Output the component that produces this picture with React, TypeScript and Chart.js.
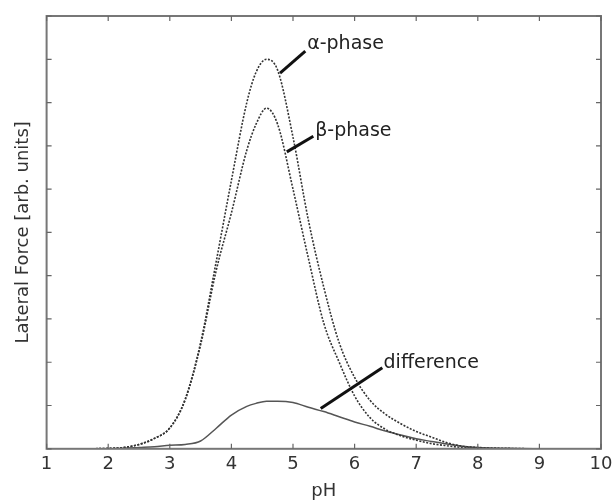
import React, { useEffect, useRef } from "react";
import { Chart, registerables } from "chart.js";

Chart.register(...registerables);

// pH sample points
const phValues = [1, 1.5, 2, 2.25, 2.5, 2.75, 3, 3.25, 3.5, 3.75, 4, 4.25, 4.4, 4.57, 4.75, 5, 5.25, 5.5, 5.75, 6, 6.25, 6.5, 6.75, 7, 7.25, 7.5, 7.75, 8, 8.5, 9, 10];
// Lateral force, alpha phase
const alphaValues = [0, 0, 0.01, 0.03, 0.1, 0.24, 0.48, 1.15, 2.45, 4.3, 6.2, 8.0, 8.7, 9.0, 8.75, 7.2, 5.28, 3.73, 2.45, 1.65, 1.12, 0.8, 0.58, 0.4, 0.27, 0.14, 0.06, 0.03, 0.01, 0, 0];
// Lateral force, beta phase
const betaValues = [0, 0, 0.01, 0.03, 0.1, 0.24, 0.48, 1.13, 2.4, 4.1, 5.45, 6.9, 7.5, 7.87, 7.5, 6.0, 4.4, 2.9, 2.0, 1.22, 0.72, 0.45, 0.3, 0.2, 0.12, 0.07, 0.03, 0.01, 0, 0, 0];
// Difference alpha - beta
const diffValues = [0, 0, 0, 0.01, 0.03, 0.05, 0.08, 0.1, 0.18, 0.47, 0.78, 0.98, 1.05, 1.1, 1.1, 1.07, 0.96, 0.86, 0.74, 0.62, 0.52, 0.41, 0.32, 0.23, 0.17, 0.11, 0.06, 0.03, 0.01, 0, 0];

const xTicks = [1, 2, 3, 4, 5, 6, 7, 8, 9, 10];
const yTicks = [0, 1, 2, 3, 4, 5, 6, 7, 8, 9, 10];

// Annotation labels and leader lines, in data units
const labelTexts = ["α-phase", "β-phase", "difference"];
const labelPos = [
  [5.23, 9.35],
  [5.36, 7.34],
  [6.47, 1.97],
];
const leaderFrom = [
  [4.79, 8.68],
  [4.9, 6.86],
  [5.45, 0.93],
];
const leaderTo = [
  [5.2, 9.19],
  [5.33, 7.22],
  [6.45, 1.87],
];

const FONT = "'DejaVu Sans', 'Liberation Sans', Arial, sans-serif";

const toPoints = (ys: number[]) => phValues.map((x, i) => ({ x, y: ys[i] }));

const framePlugin = {
  id: "frame",
  afterDatasetsDraw(chart: any) {
    const { ctx, chartArea } = chart;
    const xs = chart.scales.x;
    const ys = chart.scales.y;
    ctx.save();
    ctx.strokeStyle = "#777";
    ctx.lineWidth = 2;
    ctx.strokeRect(chartArea.left, chartArea.top, chartArea.right - chartArea.left, chartArea.bottom - chartArea.top);
    ctx.lineWidth = 1.2;
    ctx.strokeStyle = "#666";
    const tl = 5;
    xTicks.forEach((v) => {
      const px = xs.getPixelForValue(v);
      ctx.beginPath();
      ctx.moveTo(px, chartArea.bottom);
      ctx.lineTo(px, chartArea.bottom - tl);
      ctx.moveTo(px, chartArea.top);
      ctx.lineTo(px, chartArea.top + tl);
      ctx.stroke();
    });
    yTicks.forEach((v) => {
      const py = ys.getPixelForValue(v);
      ctx.beginPath();
      ctx.moveTo(chartArea.left, py);
      ctx.lineTo(chartArea.left + tl, py);
      ctx.moveTo(chartArea.right, py);
      ctx.lineTo(chartArea.right - tl, py);
      ctx.stroke();
    });
    // leader lines and labels
    ctx.strokeStyle = "#111";
    ctx.lineWidth = 3;
    ctx.lineCap = "butt";
    leaderFrom.forEach((f, i) => {
      ctx.beginPath();
      ctx.moveTo(xs.getPixelForValue(f[0]), ys.getPixelForValue(f[1]));
      ctx.lineTo(xs.getPixelForValue(leaderTo[i][0]), ys.getPixelForValue(leaderTo[i][1]));
      ctx.stroke();
    });
    ctx.fillStyle = "#222";
    ctx.font = `19px ${FONT}`;
    ctx.textAlign = "left";
    ctx.textBaseline = "middle";
    labelTexts.forEach((t, i) => {
      ctx.fillText(t, xs.getPixelForValue(labelPos[i][0]), ys.getPixelForValue(labelPos[i][1]));
    });
    ctx.restore();
  },
};

export default function App() {
  const ref = useRef<HTMLCanvasElement>(null);
  useEffect(() => {
    document.body.style.margin = "0";
    if (!ref.current) return;
    const chart = new Chart(ref.current, {
      type: "line",
      data: {
        datasets: [
          {
            label: "α-phase",
            data: toPoints(alphaValues),
            borderColor: "#333",
            borderWidth: 1.6,
            borderDash: [2, 1.5],
            pointRadius: 0,
            cubicInterpolationMode: "monotone",
            fill: false,
          },
          {
            label: "β-phase",
            data: toPoints(betaValues),
            borderColor: "#333",
            borderWidth: 1.6,
            borderDash: [2, 1.5],
            pointRadius: 0,
            cubicInterpolationMode: "monotone",
            fill: false,
          },
          {
            label: "difference",
            data: toPoints(diffValues),
            borderColor: "#555",
            borderWidth: 1.5,
            pointRadius: 0,
            cubicInterpolationMode: "monotone",
            fill: false,
          },
        ],
      },
      options: {
        animation: false,
        responsive: false,
        maintainAspectRatio: false,
        layout: { padding: { left: 13, right: 12, top: 16, bottom: 2 } },
        plugins: { legend: { display: false }, tooltip: { enabled: false } },
        scales: {
          x: {
            type: "linear",
            min: 1,
            max: 10,
            afterFit: (s: any) => {
              s.paddingRight = 0;
              s.paddingLeft = 0;
            },
            ticks: {
              stepSize: 1,
              autoSkip: false,
              padding: 5,
              color: "#333",
              font: { family: FONT, size: 18 },
              maxRotation: 0,
            },
            grid: { drawOnChartArea: false, drawTicks: false },
            border: { display: false },
            title: {
              display: true,
              text: "pH",
              color: "#333",
              font: { family: FONT, size: 18 },
              padding: { top: 0, bottom: 0 },
            },
          },
          y: {
            type: "linear",
            min: 0,
            max: 10,
            ticks: { display: false, stepSize: 1 },
            grid: { drawOnChartArea: false, drawTicks: false },
            border: { display: false },
            title: {
              display: true,
              text: "Lateral Force [arb. units]",
              color: "#333",
              font: { family: FONT, size: 18 },
              padding: { top: 0, bottom: 12 },
            },
          },
        },
      },
      plugins: [framePlugin],
    });
    return () => chart.destroy();
  }, []);
  return <canvas ref={ref} width={613} height={504} style={{ display: "block" }} />;
}
